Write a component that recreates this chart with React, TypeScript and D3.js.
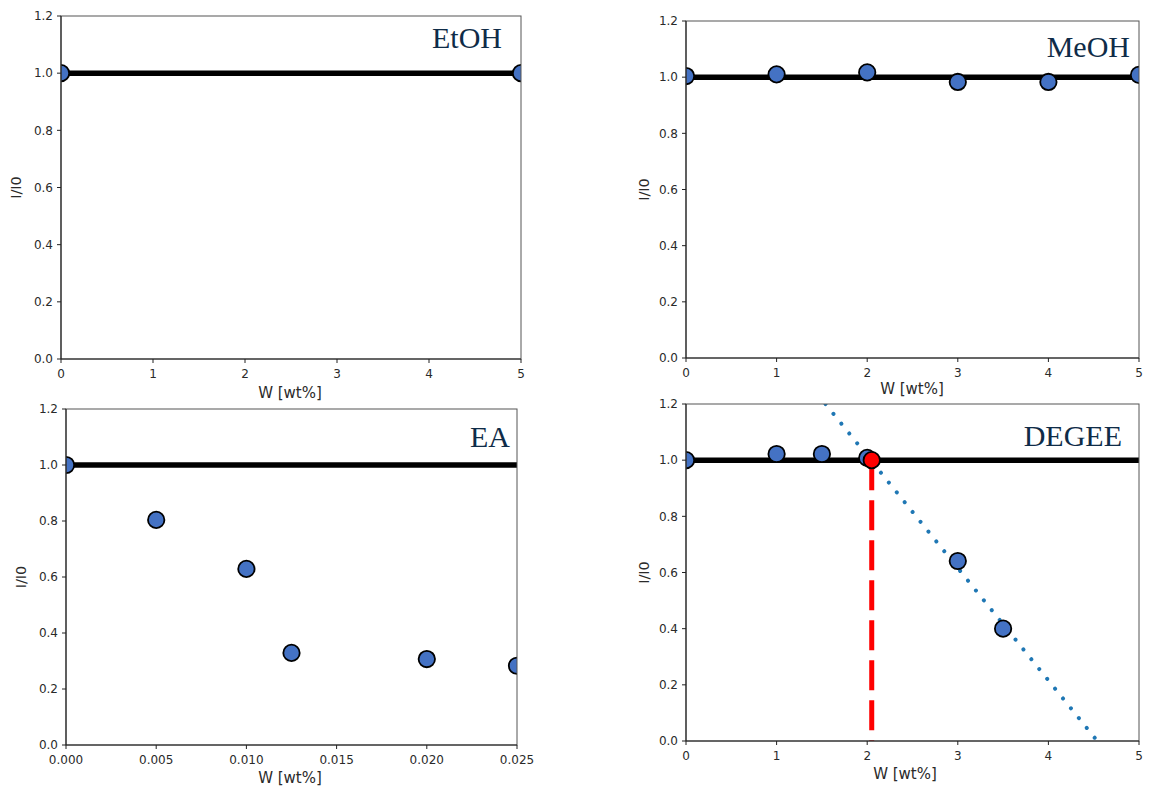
import * as d3 from "d3";
import React from "react";

// ---------- data ----------
const yTickValues = [0, 0.2, 0.4, 0.6, 0.8, 1.0, 1.2];
const wtTicks = [0, 1, 2, 3, 4, 5];
const eaTicks = [0, 0.005, 0.01, 0.015, 0.02, 0.025];

const etohW = [0, 5];
const etohI = [1.0, 1.0];
const etohRefW = [0, 5];
const etohRefI = [1.0, 1.0];

const meohW = [0, 1, 2, 3, 4, 5];
const meohI = [1.004, 1.01, 1.017, 0.983, 0.983, 1.008];
const meohRefW = [0, 5];
const meohRefI = [1.0, 1.0];

const eaW = [0, 0.005, 0.01, 0.0125, 0.02, 0.025];
const eaI = [1.0, 0.804, 0.629, 0.329, 0.307, 0.283];
const eaRefW = [0, 0.025];
const eaRefI = [1.0, 1.0];

const degeeW = [0, 1, 1.5, 2, 3, 3.5];
const degeeI = [1.0, 1.022, 1.022, 1.008, 0.641, 0.4];
const degeeRefW = [0, 5];
const degeeRefI = [1.0, 1.0];
const degeeTrendW = [1.54, 4.54];
const degeeTrendI = [1.2, 0.0];
const degeeCrossW = [2.05];
const degeeCrossI = [1.0];

// ---------- layout ----------
type PanelSpec = {
  id: string;
  title: string;
  box: [number, number, number, number]; // left, right, top, bottom
  xMax: number;
  xTicks: number[];
  xFmt: (v: number) => string;
  w: number[];
  i: number[];
  refW: number[];
  refI: number[];
  titlePos: [number, number];
  xlabelPos: [number, number];
  ylabelX: number;
  trend?: { w: number[]; i: number[] };
  cross?: { w: number[]; i: number[] };
};

const fmtInt = d3.format("d");
const fmt3 = d3.format(".3f");
const fmt1 = d3.format(".1f");

const panels: PanelSpec[] = [
  {
    id: "etoh", title: "EtOH", box: [61, 521, 16, 359], xMax: 5, xTicks: wtTicks, xFmt: fmtInt,
    w: etohW, i: etohI, refW: etohRefW, refI: etohRefI,
    titlePos: [502, 48], xlabelPos: [290, 398], ylabelX: 21,
  },
  {
    id: "meoh", title: "MeOH", box: [686, 1139, 21, 358], xMax: 5, xTicks: wtTicks, xFmt: fmtInt,
    w: meohW, i: meohI, refW: meohRefW, refI: meohRefI,
    titlePos: [1130, 57], xlabelPos: [912, 394], ylabelX: 649,
  },
  {
    id: "ea", title: "EA", box: [66, 517, 409, 745], xMax: 0.025, xTicks: eaTicks, xFmt: fmt3,
    w: eaW, i: eaI, refW: eaRefW, refI: eaRefI,
    titlePos: [510, 447], xlabelPos: [290, 783], ylabelX: 26,
  },
  {
    id: "degee", title: "DEGEE", box: [686, 1139, 404, 741], xMax: 5, xTicks: wtTicks, xFmt: fmtInt,
    w: degeeW, i: degeeI, refW: degeeRefW, refI: degeeRefI,
    titlePos: [1122, 446], xlabelPos: [905, 779], ylabelX: 649,
    trend: { w: degeeTrendW, i: degeeTrendI },
    cross: { w: degeeCrossW, i: degeeCrossI },
  },
];

const TICK_FONT = "'DejaVu Sans', sans-serif";

function Panel({ p }: { p: PanelSpec }) {
  const [l, r, t, b] = p.box;
  const x = d3.scaleLinear().domain([0, p.xMax]).range([l, r]);
  const y = d3.scaleLinear().domain([0, 1.2]).range([b, t]);
  const line = d3
    .line<[number, number]>()
    .x((d) => x(d[0]))
    .y((d) => y(d[1]));
  const zip = (a: number[], c: number[]) => a.map((v, k) => [v, c[k]] as [number, number]);
  const clipId = `clip-${p.id}`;
  return (
    <g>
      <defs>
        <clipPath id={clipId}>
          <rect x={l} y={t} width={r - l} height={b - t} />
        </clipPath>
      </defs>
      <g clipPath={`url(#${clipId})`}>
        {p.trend && (
          <path
            d={line(zip(p.trend.w, p.trend.i)) || ""}
            fill="none"
            stroke="#1f77b4"
            strokeWidth={4}
            strokeLinecap="round"
            strokeDasharray="0.01 12.6"
          />
        )}
        <path
          d={line(zip(p.refW, p.refI)) || ""}
          fill="none"
          stroke="#000"
          strokeWidth={5.5}
        />
        {p.cross &&
          p.cross.w.map((cw, k) => (
            <line
              key={"cl" + k}
              x1={x(cw)}
              x2={x(cw)}
              y1={y(p.cross!.i[k])}
              y2={y(0)}
              stroke="#ff0000"
              strokeWidth={5}
              strokeDasharray="30 10"
            />
          ))}
        {p.w.map((wv, k) => (
          <circle
            key={k}
            cx={x(wv)}
            cy={y(p.i[k])}
            r={8.2}
            fill="#4472c4"
            stroke="#000"
            strokeWidth={1.8}
          />
        ))}
        {p.cross &&
          p.cross.w.map((cw, k) => (
            <circle
              key={"cp" + k}
              cx={x(cw)}
              cy={y(p.cross!.i[k])}
              r={8.2}
              fill="#ff0000"
              stroke="#000"
              strokeWidth={1.8}
            />
          ))}
      </g>
      {/* spines */}
      <rect x={l} y={t} width={r - l} height={b - t} fill="none" stroke="#555" strokeWidth={1} />
      <line x1={l} x2={l} y1={t} y2={b} stroke="#222" strokeWidth={1.1} />
      <line x1={l} x2={r} y1={b} y2={b} stroke="#222" strokeWidth={1.1} />
      {/* x ticks */}
      {p.xTicks.map((v) => (
        <g key={"x" + v}>
          <line x1={x(v)} x2={x(v)} y1={b} y2={b + 4} stroke="#222" strokeWidth={1} />
          <text
            x={x(v)}
            y={b + 19}
            textAnchor="middle"
            fontFamily={TICK_FONT}
            fontSize={12}
            fill="#2a2a2a"
          >
            {p.xFmt(v)}
          </text>
        </g>
      ))}
      {/* y ticks */}
      {yTickValues.map((v) => (
        <g key={"y" + v}>
          <line x1={l - 4} x2={l} y1={y(v)} y2={y(v)} stroke="#222" strokeWidth={1} />
          <text
            x={l - 8}
            y={y(v)}
            dy="0.36em"
            textAnchor="end"
            fontFamily={TICK_FONT}
            fontSize={12}
            fill="#2a2a2a"
          >
            {fmt1(v)}
          </text>
        </g>
      ))}
      {/* axis labels */}
      <text
        x={p.xlabelPos[0]}
        y={p.xlabelPos[1]}
        textAnchor="middle"
        fontFamily={TICK_FONT}
        fontSize={15}
        fill="#2a2a2a"
      >
        W [wt%]
      </text>
      <text
        transform={`translate(${p.ylabelX},${(t + b) / 2}) rotate(-90)`}
        textAnchor="middle"
        fontFamily={TICK_FONT}
        fontSize={14.5}
        fill="#2a2a2a"
      >
        I/I0
      </text>
      {/* title */}
      <text
        x={p.titlePos[0]}
        y={p.titlePos[1]}
        textAnchor="end"
        fontFamily="'Liberation Serif', 'DejaVu Serif', serif"
        fontSize={30}
        fill="#0f2c48"
      >
        {p.title}
      </text>
    </g>
  );
}

export default function App() {
  return (
    <svg
      width={1149}
      height={792}
      viewBox="0 0 1149 792"
      style={{ position: "absolute", left: 0, top: 0, background: "#fff" }}
    >
      <rect x={0} y={0} width={1149} height={792} fill="#fff" />
      {panels.map((p) => (
        <Panel key={p.id} p={p} />
      ))}
    </svg>
  );
}
